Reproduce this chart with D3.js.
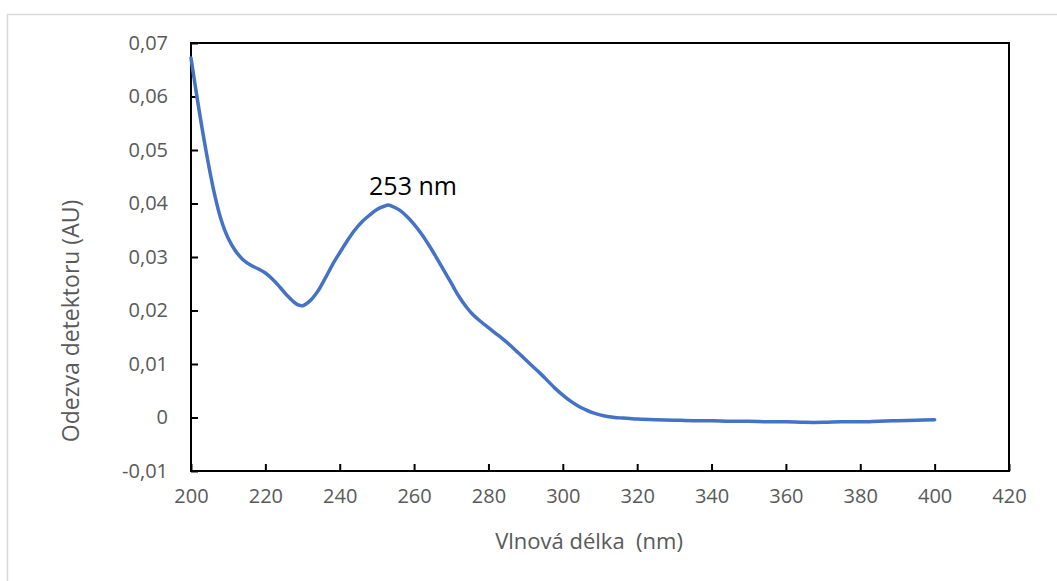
<!DOCTYPE html>
<html>
<head>
<meta charset="utf-8">
<script src="https://cdn.jsdelivr.net/npm/d3@7"></script>
<style>
  body { margin: 0; background: #fff; }
  text { font-family: "Open Sans", sans-serif; }
</style>
</head>
<body>
<div id="chart"></div>
<script>
// spectrum values
var wavelength = [200, 202, 204, 206, 208, 210, 212, 214, 216, 218, 220, 222, 224, 226, 228, 229, 230, 232, 234, 236, 238,
    240, 242, 244, 246, 248, 250, 252, 253, 254, 256, 258, 260, 262, 264, 266, 268, 270, 272, 274, 276, 278,
    280, 282, 284, 286, 288, 290, 292, 294, 296, 298, 300, 302, 304, 306, 308, 310, 312, 314, 316, 318,
    320, 325, 330, 335, 340, 345, 350, 355, 360, 365, 370, 375, 380, 385, 390, 395, 400];
var absorbance = [0.0672, 0.0582, 0.0500, 0.0428, 0.0372, 0.0335, 0.0311, 0.0295, 0.0285, 0.0278, 0.0270, 0.0258, 0.0243, 0.0227, 0.0214, 0.0210, 0.0209, 0.0218, 0.0235, 0.0259, 0.0285,
    0.0308, 0.0330, 0.0350, 0.0366, 0.0378, 0.0389, 0.0395, 0.0397, 0.0395, 0.0388, 0.0376, 0.0361, 0.0343, 0.0322, 0.0299, 0.0275, 0.0251, 0.0227, 0.0207, 0.0191, 0.0179,
    0.0168, 0.0157, 0.0146, 0.0134, 0.0121, 0.0108, 0.0095, 0.0082, 0.0068, 0.0054, 0.0042, 0.0031, 0.0022, 0.0015, 0.0009, 0.0005, 0.0002, 0.0000, -0.0001, -0.0002,
    -0.0003, -0.0004, -0.0005, -0.0006, -0.0006, -0.0007, -0.0007, -0.0008, -0.0008, -0.0009, -0.0009, -0.0008, -0.0008, -0.0007, -0.0006, -0.0005, -0.0004];
var xTicks = [200, 220, 240, 260, 280, 300, 320, 340, 360, 380, 400, 420];
var yTicks = [-0.01, 0, 0.01, 0.02, 0.03, 0.04, 0.05, 0.06, 0.07];
var peakLabel = "253 nm";
var peakAt = 253;
var peakValue = 0.0397;

var W = 1057, H = 581;
var margin = { top: 43, right: 48, bottom: 110, left: 191 },
    width = W - margin.left - margin.right,
    height = H - margin.top - margin.bottom;

var svg = d3.select("#chart").append("svg")
    .attr("width", W)
    .attr("height", H);

// outer chart border (only top/left visible in the crop)
svg.append("rect")
    .attr("x", 7.5).attr("y", 14.5)
    .attr("width", W + 20).attr("height", H + 20)
    .attr("fill", "none")
    .attr("stroke", "#d9d9d9")
    .attr("stroke-width", 1.5);

var g = svg.append("g")
    .attr("transform", "translate(" + margin.left + "," + margin.top + ")");

var x = d3.scaleLinear().domain([200, 420]).range([0, width]);
var y = d3.scaleLinear().domain([-0.01, 0.07]).range([height, 0]);

// x axis, ticks pointing inward
var xAxis = g.append("g")
    .attr("transform", "translate(0," + height + ")")
    .call(d3.axisBottom(x).tickValues(xTicks).tickSizeInner(-7).tickSizeOuter(0).tickPadding(18));
xAxis.select(".domain").remove();
xAxis.selectAll("line").attr("stroke", "#000").attr("stroke-width", 2);
xAxis.selectAll("text").attr("fill", "#595959").style("font-size", "20px").style("font-family", "Open Sans");

var yAxis = g.append("g")
    .call(d3.axisLeft(y).tickValues(yTicks).tickFormat(function (d) {
        if (Math.abs(d) < 1e-9) return "0";
        return d3.format(".2f")(d).replace(".", ",").replace("−", "-");
    }).tickSizeInner(-7).tickSizeOuter(0).tickPadding(23));
yAxis.select(".domain").remove();
yAxis.selectAll("line").attr("stroke", "#000").attr("stroke-width", 2);
yAxis.selectAll("text").attr("fill", "#595959").style("font-size", "20px").style("font-family", "Open Sans");

// plot frame
g.append("rect")
    .attr("x", 0).attr("y", 0)
    .attr("width", width).attr("height", height)
    .attr("fill", "none")
    .attr("stroke", "#000")
    .attr("stroke-width", 2);

var pts = wavelength.map(function (d, i) { return [d, absorbance[i]]; });
var line = d3.line()
    .x(function (d) { return x(d[0]); })
    .y(function (d) { return y(d[1]); })
    .curve(d3.curveCatmullRom);

g.append("path")
    .datum(pts)
    .attr("fill", "none")
    .attr("stroke", "#4472c4")
    .attr("stroke-width", 3.5)
    .attr("stroke-linejoin", "round")
    .attr("stroke-linecap", "round")
    .attr("d", line);

// peak annotation
g.append("text")
    .attr("x", x(peakAt) - 19)
    .attr("y", y(peakValue) - 10)
    .attr("fill", "#000")
    .style("font-size", "25px")
    .text(peakLabel);

// axis titles
svg.append("text")
    .attr("x", 589)
    .attr("y", 549)
    .attr("text-anchor", "middle")
    .attr("fill", "#595959")
    .style("font-size", "22px")
    .text("Vlnová délka\u00a0 (nm)");

svg.append("text")
    .attr("transform", "translate(79,321) rotate(-90)")
    .attr("text-anchor", "middle")
    .attr("fill", "#595959")
    .style("font-size", "23px")
    .text("Odezva detektoru (AU)");
</script>
</body>
</html>
